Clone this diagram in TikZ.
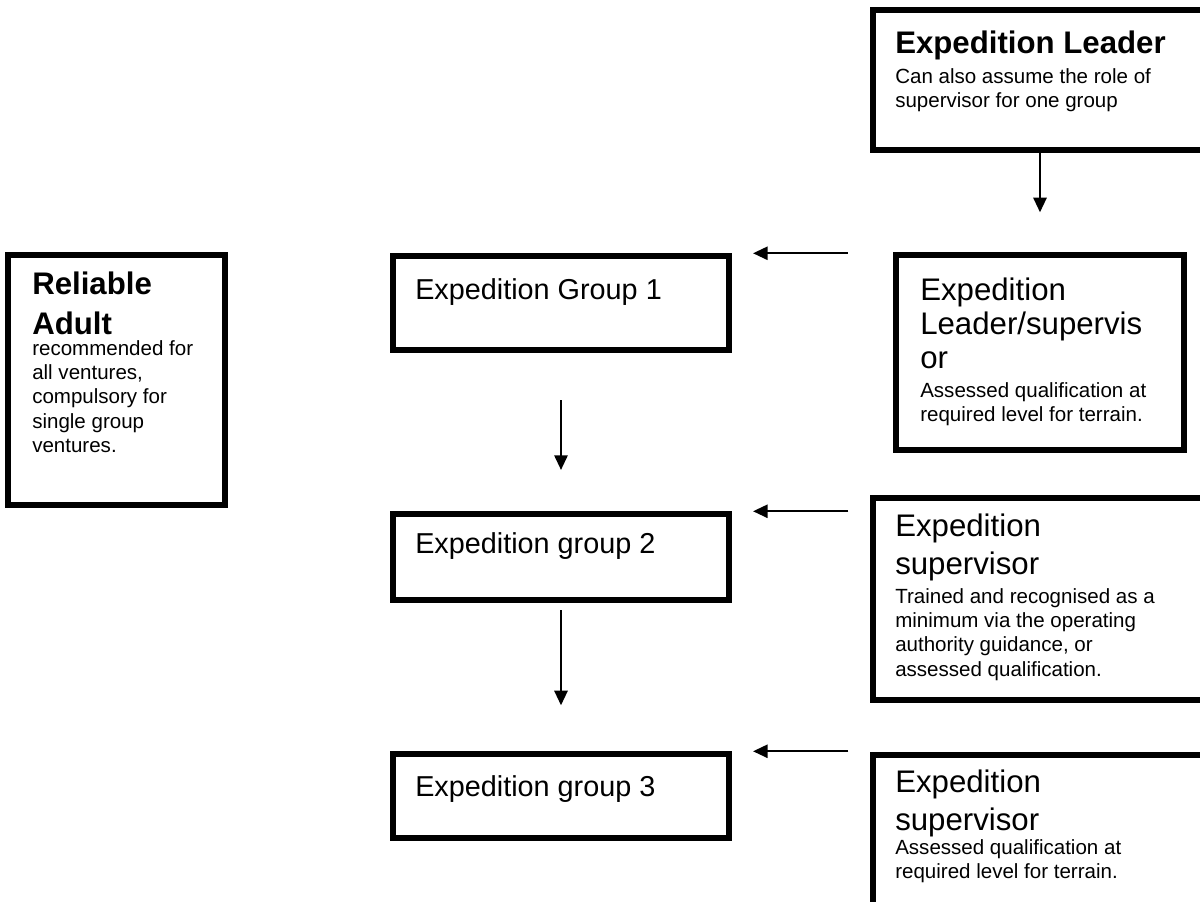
\documentclass[tikz,border=0pt]{standalone}
\usepackage{fontspec}
\setmainfont{Liberation Sans}
\usetikzlibrary{arrows.meta}

\tikzset{
  box/.style={draw, line width=4.1pt, inner sep=0pt},
  head/.style={anchor=north west, inner sep=0pt, align=left, font=\fontsize{23.4}{28.5}\selectfont},
  grp/.style={anchor=north west, inner sep=0pt, font=\fontsize{21.6}{26}\selectfont},
  desc/.style={anchor=north west, inner sep=0pt, align=left, font=\fontsize{15.4}{18.3}\selectfont},
  arr/.style={-{Triangle[length=11pt,width=10pt]}, line width=1.5pt},
}

\begin{document}
\begin{tikzpicture}[x=0.75pt,y=-0.75pt]
\useasboundingbox (0,0) rectangle (1200,901);
\clip (0,0) rectangle (1200,901);

% boxes
\node[box, minimum width=250.5pt, minimum height=105pt] (lead) at (1040,80) {};
\node[box, minimum width=162.75pt, minimum height=187.5pt] (adult) at (116.5,380) {};
\node[box, minimum width=216pt, minimum height=146.25pt] (lsup) at (1040,352.5) {};
\node[box, minimum width=250.5pt, minimum height=151.5pt] (sup2) at (1040,599) {};
\node[box, minimum width=250.5pt, minimum height=120pt] (sup3) at (1040,835) {};
\node[box, minimum width=252pt, minimum height=70.5pt] (g1) at (561,303) {};
\node[box, minimum width=252pt, minimum height=64.5pt] (g2) at (561,557) {};
\node[box, minimum width=252pt, minimum height=63pt] (g3) at (561,796) {};

% texts
\node[head] (leadh) at (895,31) {\bfseries Expedition Leader};
\node[desc] (leadd) at (895,68) {Can also assume the role of\\supervisor for one group};
\node[head, font=\fontsize{23.4}{30}\selectfont] (adulth) at (32,272) {\bfseries Reliable\\\bfseries Adult};
\node[desc] (adultd) at (32,340) {recommended for\\all ventures,\\compulsory for\\single group\\ventures.};
\node[grp] (g1t) at (415,278) {Expedition Group 1};
\node[grp] (g2t) at (415,532) {Expedition group 2};
\node[grp] (g3t) at (415,775) {Expedition group 3};
\node[head, font=\fontsize{23.4}{25.5}\selectfont] (lsuph) at (920,278) {Expedition\\Leader/supervis\\or};
\node[desc] (lsupd) at (920,382) {Assessed qualification at\\required level for terrain.};
\node[head] (sup2h) at (895,514) {Expedition\\supervisor};
\node[desc] (sup2d) at (895,588) {Trained and recognised as a\\minimum via the operating\\authority guidance, or\\assessed qualification.};
\node[head] (sup3h) at (895,770) {Expedition\\supervisor};
\node[desc] (sup3d) at (895,839) {Assessed qualification at\\required level for terrain.};

% arrows
\draw[arr, shorten >=30pt] (lead.south) -- (lsup.north);
\draw[arr, shorten <=35.5pt, shorten >=31pt] (g1.south) -- (g2.north);
\draw[arr, shorten <=5.5pt, shorten >=34.5pt] (g2.south) -- (g3.north);
\draw[arr, shorten <=34pt, shorten >=16pt] (lsup.west |- g1.north) -- (g1.north east);
\draw[arr, shorten <=16.5pt, shorten >=16pt] (sup2.west |- g2.north) -- (g2.north east);
\draw[arr, shorten <=16.5pt, shorten >=16pt] (sup3.west |- g3.north) -- (g3.north east);

\end{tikzpicture}
\end{document}
